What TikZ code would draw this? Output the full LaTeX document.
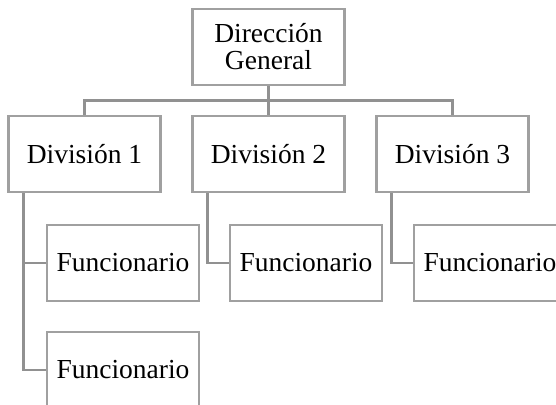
\documentclass[tikz,border=0pt]{standalone}
\usepackage{fontspec}
\setmainfont{Liberation Serif}
\begin{document}
\begin{tikzpicture}[x=1pt,y=-1pt,
  line/.style={draw=linegray,line width=2.4pt},
  link/.style={draw=linkgray,line width=2.4pt},
  unit/.style={line,rectangle,fill=white,inner sep=0pt,minimum width=152pt,
    minimum height=76pt,align=center,font=\fontsize{27.5}{27}\selectfont}]
\definecolor{linegray}{RGB}{160,160,160}
\definecolor{linkgray}{RGB}{145,145,145}
\useasboundingbox (0,0) rectangle (556,404);
\clip (0,0) rectangle (556,404);

% top of the chart
\node[unit] (dg) at (268.5,47) {Dirección\\General};

% divisions
\node[unit] (d1) at (84.5,154) {División 1};
\node[unit] (d2) at (268.5,154) {División 2};
\node[unit] (d3) at (452.5,154) {División 3};

% staff under each division
\node[unit] (f11) at (123,263) {Funcionario};
\node[unit] (f12) at (123,370) {Funcionario};
\node[unit] (f21) at (306,263) {Funcionario};
\node[unit] (f31) at (490,263) {Funcionario};

% bus from the top box to the divisions
\coordinate (bus) at (268.5,100.5);
\draw[link] (dg.south) -- (bus);
\draw[link] (bus) -| (d1.north);
\draw[link] (bus) -| (d3.north);
\draw[link] (bus) -- (d2.north);

% division to staff connectors
\draw[link] ([xshift=16pt]d1.south west) |- (f12.west);
\draw[link] ([xshift=16pt]d1.south west) |- (f11.west);
\draw[link] ([xshift=16pt]d2.south west) |- (f21.west);
\draw[link] ([xshift=16pt]d3.south west) |- (f31.west);
\end{tikzpicture}
\end{document}
